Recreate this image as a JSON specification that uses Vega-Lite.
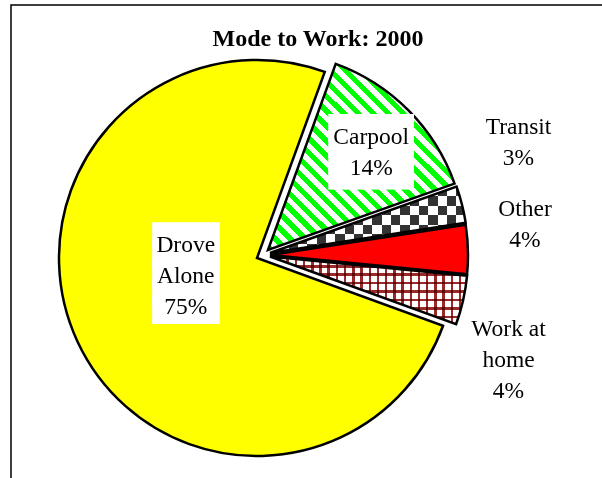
{
 "$schema": "https://vega.github.io/schema/vega-lite/v6.json",
 "width": 597, "height": 479,
 "autosize": {"type": "none"},
 "padding": {"left": 11, "top": 5, "right": -6, "bottom": -6},
 "background": "white",
 "view": {"stroke": "black", "strokeWidth": 1.5},
 "config": {"view": {"stroke": "black", "strokeWidth": 1.5}},
 "title": {"text": "Mode to Work: 2000", "font": "Liberation Serif", "fontSize": 24, "fontWeight": "bold", "color": "black", "anchor": "middle", "frame": "group", "baseline": "alphabetic", "offset": -41, "dx": 8.5, "dy": 25},
 "data": {"values": [
  {"mode": "Carpool", "value": 14, "label": "Carpool|14%"},
  {"mode": "Transit", "value": 3, "label": "Transit|3%"},
  {"mode": "Other", "value": 4, "label": "Other|4%"},
  {"mode": "Work at home", "value": 4, "label": "Work at|home|4%"},
  {"mode": "Drove Alone", "value": 75, "label": "Drove|Alone|75%"}
 ]},
 "transform": [{"stack": "value", "groupby": [], "as": ["start", "end"]}],
 "layer": [
  {"transform": [{"filter": "datum.mode === 'Drove Alone'"}],
   "mark": {"type": "arc", "radius": 198, "xOffset": -52.5, "yOffset": 13.5, "fill": "#ffff00", "stroke": "black", "strokeWidth": 2.5},
   "encoding": {"theta": {"field": "start", "type": "quantitative", "scale": {"domain": [0, 100], "range": [0.34907, 6.63225]}}, "theta2": {"field": "end"}}},
  {"transform": [{"filter": "datum.mode === 'Carpool'"}],
   "mark": {"type": "arc", "radius": 198, "xOffset": -41.5, "yOffset": 5.5, "stroke": "black", "strokeWidth": 2.5,
    "fill": {"gradient": "linear", "x1": 0, "y1": 1, "x2": 1, "y2": 0, "stops": [
     {"offset": 0, "color": "#00ff00"}, {"offset": 0.02, "color": "#00ff00"}, {"offset": 0.02, "color": "#ffffff"}, {"offset": 0.04, "color": "#ffffff"},
     {"offset": 0.04, "color": "#00ff00"}, {"offset": 0.06, "color": "#00ff00"}, {"offset": 0.06, "color": "#ffffff"}, {"offset": 0.08, "color": "#ffffff"},
     {"offset": 0.08, "color": "#00ff00"}, {"offset": 0.10, "color": "#00ff00"}, {"offset": 0.10, "color": "#ffffff"}, {"offset": 0.12, "color": "#ffffff"},
     {"offset": 0.12, "color": "#00ff00"}, {"offset": 0.14, "color": "#00ff00"}, {"offset": 0.14, "color": "#ffffff"}, {"offset": 0.16, "color": "#ffffff"},
     {"offset": 0.16, "color": "#00ff00"}, {"offset": 0.18, "color": "#00ff00"}, {"offset": 0.18, "color": "#ffffff"}, {"offset": 0.20, "color": "#ffffff"},
     {"offset": 0.20, "color": "#00ff00"}, {"offset": 0.22, "color": "#00ff00"}, {"offset": 0.22, "color": "#ffffff"}, {"offset": 0.24, "color": "#ffffff"},
     {"offset": 0.24, "color": "#00ff00"}, {"offset": 0.26, "color": "#00ff00"}, {"offset": 0.26, "color": "#ffffff"}, {"offset": 0.28, "color": "#ffffff"},
     {"offset": 0.28, "color": "#00ff00"}, {"offset": 0.30, "color": "#00ff00"}, {"offset": 0.30, "color": "#ffffff"}, {"offset": 0.32, "color": "#ffffff"},
     {"offset": 0.32, "color": "#00ff00"}, {"offset": 0.34, "color": "#00ff00"}, {"offset": 0.34, "color": "#ffffff"}, {"offset": 0.36, "color": "#ffffff"},
     {"offset": 0.36, "color": "#00ff00"}, {"offset": 0.38, "color": "#00ff00"}, {"offset": 0.38, "color": "#ffffff"}, {"offset": 0.40, "color": "#ffffff"},
     {"offset": 0.40, "color": "#00ff00"}, {"offset": 0.42, "color": "#00ff00"}, {"offset": 0.42, "color": "#ffffff"}, {"offset": 0.44, "color": "#ffffff"},
     {"offset": 0.44, "color": "#00ff00"}, {"offset": 0.46, "color": "#00ff00"}, {"offset": 0.46, "color": "#ffffff"}, {"offset": 0.48, "color": "#ffffff"},
     {"offset": 0.48, "color": "#00ff00"}, {"offset": 0.50, "color": "#00ff00"}, {"offset": 0.50, "color": "#ffffff"}, {"offset": 0.52, "color": "#ffffff"},
     {"offset": 0.52, "color": "#00ff00"}, {"offset": 0.54, "color": "#00ff00"}, {"offset": 0.54, "color": "#ffffff"}, {"offset": 0.56, "color": "#ffffff"},
     {"offset": 0.56, "color": "#00ff00"}, {"offset": 0.58, "color": "#00ff00"}, {"offset": 0.58, "color": "#ffffff"}, {"offset": 0.60, "color": "#ffffff"},
     {"offset": 0.60, "color": "#00ff00"}, {"offset": 0.62, "color": "#00ff00"}, {"offset": 0.62, "color": "#ffffff"}, {"offset": 0.64, "color": "#ffffff"},
     {"offset": 0.64, "color": "#00ff00"}, {"offset": 0.66, "color": "#00ff00"}, {"offset": 0.66, "color": "#ffffff"}, {"offset": 0.68, "color": "#ffffff"},
     {"offset": 0.68, "color": "#00ff00"}, {"offset": 0.70, "color": "#00ff00"}, {"offset": 0.70, "color": "#ffffff"}, {"offset": 0.72, "color": "#ffffff"},
     {"offset": 0.72, "color": "#00ff00"}, {"offset": 0.74, "color": "#00ff00"}, {"offset": 0.74, "color": "#ffffff"}, {"offset": 0.76, "color": "#ffffff"},
     {"offset": 0.76, "color": "#00ff00"}, {"offset": 0.78, "color": "#00ff00"}, {"offset": 0.78, "color": "#ffffff"}, {"offset": 0.80, "color": "#ffffff"},
     {"offset": 0.80, "color": "#00ff00"}, {"offset": 0.82, "color": "#00ff00"}, {"offset": 0.82, "color": "#ffffff"}, {"offset": 0.84, "color": "#ffffff"},
     {"offset": 0.84, "color": "#00ff00"}, {"offset": 0.86, "color": "#00ff00"}, {"offset": 0.86, "color": "#ffffff"}, {"offset": 0.88, "color": "#ffffff"},
     {"offset": 0.88, "color": "#00ff00"}, {"offset": 0.90, "color": "#00ff00"}, {"offset": 0.90, "color": "#ffffff"}, {"offset": 0.92, "color": "#ffffff"},
     {"offset": 0.92, "color": "#00ff00"}, {"offset": 0.94, "color": "#00ff00"}, {"offset": 0.94, "color": "#ffffff"}, {"offset": 0.96, "color": "#ffffff"},
     {"offset": 0.96, "color": "#00ff00"}, {"offset": 0.98, "color": "#00ff00"}, {"offset": 0.98, "color": "#ffffff"}, {"offset": 1, "color": "#ffffff"}
    ]}},
   "encoding": {"theta": {"field": "start", "type": "quantitative", "scale": {"domain": [0, 100], "range": [0.34907, 6.63225]}}, "theta2": {"field": "end"}}},
  {"transform": [{"filter": "datum.mode === 'Transit'"}],
   "mark": {"type": "arc", "radius": 198, "xOffset": -39.5, "yOffset": 8.5, "strokeWidth": 0,
    "fill": {"gradient": "linear", "x1": 0, "y1": 0, "x2": 1, "y2": 0, "stops": [
     {"offset": 0, "color": "#000000"}, {"offset": 0.0476, "color": "#000000"}, {"offset": 0.0476, "color": "#ffffff"}, {"offset": 0.0952, "color": "#ffffff"},
     {"offset": 0.0952, "color": "#000000"}, {"offset": 0.1429, "color": "#000000"}, {"offset": 0.1429, "color": "#ffffff"}, {"offset": 0.1905, "color": "#ffffff"},
     {"offset": 0.1905, "color": "#000000"}, {"offset": 0.2381, "color": "#000000"}, {"offset": 0.2381, "color": "#ffffff"}, {"offset": 0.2857, "color": "#ffffff"},
     {"offset": 0.2857, "color": "#000000"}, {"offset": 0.3333, "color": "#000000"}, {"offset": 0.3333, "color": "#ffffff"}, {"offset": 0.381, "color": "#ffffff"},
     {"offset": 0.381, "color": "#000000"}, {"offset": 0.4286, "color": "#000000"}, {"offset": 0.4286, "color": "#ffffff"}, {"offset": 0.4762, "color": "#ffffff"},
     {"offset": 0.4762, "color": "#000000"}, {"offset": 0.5238, "color": "#000000"}, {"offset": 0.5238, "color": "#ffffff"}, {"offset": 0.5714, "color": "#ffffff"},
     {"offset": 0.5714, "color": "#000000"}, {"offset": 0.619, "color": "#000000"}, {"offset": 0.619, "color": "#ffffff"}, {"offset": 0.6667, "color": "#ffffff"},
     {"offset": 0.6667, "color": "#000000"}, {"offset": 0.7143, "color": "#000000"}, {"offset": 0.7143, "color": "#ffffff"}, {"offset": 0.7619, "color": "#ffffff"},
     {"offset": 0.7619, "color": "#000000"}, {"offset": 0.8095, "color": "#000000"}, {"offset": 0.8095, "color": "#ffffff"}, {"offset": 0.8571, "color": "#ffffff"},
     {"offset": 0.8571, "color": "#000000"}, {"offset": 0.9048, "color": "#000000"}, {"offset": 0.9048, "color": "#ffffff"}, {"offset": 0.9524, "color": "#ffffff"},
     {"offset": 0.9524, "color": "#000000"}, {"offset": 1, "color": "#000000"}
    ]}},
   "encoding": {"theta": {"field": "start", "type": "quantitative", "scale": {"domain": [0, 100], "range": [0.34907, 6.63225]}}, "theta2": {"field": "end"}}},
  {"transform": [{"filter": "datum.mode === 'Transit'"}],
   "mark": {"type": "arc", "radius": 198, "xOffset": -39.5, "yOffset": 8.5, "strokeWidth": 0, "blend": "difference",
    "fill": {"gradient": "linear", "x1": 0, "y1": 0, "x2": 0, "y2": 1, "stops": [
     {"offset": 0, "color": "#000000"}, {"offset": 0.1429, "color": "#000000"}, {"offset": 0.1429, "color": "#ffffff"}, {"offset": 0.2857, "color": "#ffffff"},
     {"offset": 0.2857, "color": "#000000"}, {"offset": 0.4286, "color": "#000000"}, {"offset": 0.4286, "color": "#ffffff"}, {"offset": 0.5714, "color": "#ffffff"},
     {"offset": 0.5714, "color": "#000000"}, {"offset": 0.7143, "color": "#000000"}, {"offset": 0.7143, "color": "#ffffff"}, {"offset": 0.8571, "color": "#ffffff"},
     {"offset": 0.8571, "color": "#000000"}, {"offset": 1, "color": "#000000"}
    ]}},
   "encoding": {"theta": {"field": "start", "type": "quantitative", "scale": {"domain": [0, 100], "range": [0.34907, 6.63225]}}, "theta2": {"field": "end"}}},
  {"transform": [{"filter": "datum.mode === 'Transit'"}],
   "mark": {"type": "arc", "radius": 198, "xOffset": -39.5, "yOffset": 8.5, "fill": "#ffffff", "fillOpacity": 0.2, "stroke": "black", "strokeWidth": 2.5},
   "encoding": {"theta": {"field": "start", "type": "quantitative", "scale": {"domain": [0, 100], "range": [0.34907, 6.63225]}}, "theta2": {"field": "end"}}},
  {"transform": [{"filter": "datum.mode === 'Other'"}],
   "mark": {"type": "arc", "radius": 198, "xOffset": -39.5, "yOffset": 10.5, "fill": "#ff0000", "stroke": "black", "strokeWidth": 2.5},
   "encoding": {"theta": {"field": "start", "type": "quantitative", "scale": {"domain": [0, 100], "range": [0.34907, 6.63225]}}, "theta2": {"field": "end"}}},
  {"transform": [{"filter": "datum.mode === 'Work at home'"}],
   "mark": {"type": "arc", "radius": 198, "xOffset": -39.5, "yOffset": 12, "strokeWidth": 0,
    "fill": {"gradient": "linear", "x1": 0, "y1": 0, "x2": 1, "y2": 0, "stops": [
     {"offset": 0, "color": "#9a2a2a"}, {"offset": 0.0125, "color": "#9a2a2a"}, {"offset": 0.0125, "color": "#ffffff"}, {"offset": 0.0417, "color": "#ffffff"},
     {"offset": 0.0417, "color": "#9a2a2a"}, {"offset": 0.0542, "color": "#9a2a2a"}, {"offset": 0.0542, "color": "#ffffff"}, {"offset": 0.0833, "color": "#ffffff"},
     {"offset": 0.0833, "color": "#9a2a2a"}, {"offset": 0.0958, "color": "#9a2a2a"}, {"offset": 0.0958, "color": "#ffffff"}, {"offset": 0.125, "color": "#ffffff"},
     {"offset": 0.125, "color": "#9a2a2a"}, {"offset": 0.1375, "color": "#9a2a2a"}, {"offset": 0.1375, "color": "#ffffff"}, {"offset": 0.1667, "color": "#ffffff"},
     {"offset": 0.1667, "color": "#9a2a2a"}, {"offset": 0.1792, "color": "#9a2a2a"}, {"offset": 0.1792, "color": "#ffffff"}, {"offset": 0.2083, "color": "#ffffff"},
     {"offset": 0.2083, "color": "#9a2a2a"}, {"offset": 0.2208, "color": "#9a2a2a"}, {"offset": 0.2208, "color": "#ffffff"}, {"offset": 0.25, "color": "#ffffff"},
     {"offset": 0.25, "color": "#9a2a2a"}, {"offset": 0.2625, "color": "#9a2a2a"}, {"offset": 0.2625, "color": "#ffffff"}, {"offset": 0.2917, "color": "#ffffff"},
     {"offset": 0.2917, "color": "#9a2a2a"}, {"offset": 0.3042, "color": "#9a2a2a"}, {"offset": 0.3042, "color": "#ffffff"}, {"offset": 0.3333, "color": "#ffffff"},
     {"offset": 0.3333, "color": "#9a2a2a"}, {"offset": 0.3458, "color": "#9a2a2a"}, {"offset": 0.3458, "color": "#ffffff"}, {"offset": 0.375, "color": "#ffffff"},
     {"offset": 0.375, "color": "#9a2a2a"}, {"offset": 0.3875, "color": "#9a2a2a"}, {"offset": 0.3875, "color": "#ffffff"}, {"offset": 0.4167, "color": "#ffffff"},
     {"offset": 0.4167, "color": "#9a2a2a"}, {"offset": 0.4292, "color": "#9a2a2a"}, {"offset": 0.4292, "color": "#ffffff"}, {"offset": 0.4583, "color": "#ffffff"},
     {"offset": 0.4583, "color": "#9a2a2a"}, {"offset": 0.4708, "color": "#9a2a2a"}, {"offset": 0.4708, "color": "#ffffff"}, {"offset": 0.5, "color": "#ffffff"},
     {"offset": 0.5, "color": "#9a2a2a"}, {"offset": 0.5125, "color": "#9a2a2a"}, {"offset": 0.5125, "color": "#ffffff"}, {"offset": 0.5417, "color": "#ffffff"},
     {"offset": 0.5417, "color": "#9a2a2a"}, {"offset": 0.5542, "color": "#9a2a2a"}, {"offset": 0.5542, "color": "#ffffff"}, {"offset": 0.5833, "color": "#ffffff"},
     {"offset": 0.5833, "color": "#9a2a2a"}, {"offset": 0.5958, "color": "#9a2a2a"}, {"offset": 0.5958, "color": "#ffffff"}, {"offset": 0.625, "color": "#ffffff"},
     {"offset": 0.625, "color": "#9a2a2a"}, {"offset": 0.6375, "color": "#9a2a2a"}, {"offset": 0.6375, "color": "#ffffff"}, {"offset": 0.6667, "color": "#ffffff"},
     {"offset": 0.6667, "color": "#9a2a2a"}, {"offset": 0.6792, "color": "#9a2a2a"}, {"offset": 0.6792, "color": "#ffffff"}, {"offset": 0.7083, "color": "#ffffff"},
     {"offset": 0.7083, "color": "#9a2a2a"}, {"offset": 0.7208, "color": "#9a2a2a"}, {"offset": 0.7208, "color": "#ffffff"}, {"offset": 0.75, "color": "#ffffff"},
     {"offset": 0.75, "color": "#9a2a2a"}, {"offset": 0.7625, "color": "#9a2a2a"}, {"offset": 0.7625, "color": "#ffffff"}, {"offset": 0.7917, "color": "#ffffff"},
     {"offset": 0.7917, "color": "#9a2a2a"}, {"offset": 0.8042, "color": "#9a2a2a"}, {"offset": 0.8042, "color": "#ffffff"}, {"offset": 0.8333, "color": "#ffffff"},
     {"offset": 0.8333, "color": "#9a2a2a"}, {"offset": 0.8458, "color": "#9a2a2a"}, {"offset": 0.8458, "color": "#ffffff"}, {"offset": 0.875, "color": "#ffffff"},
     {"offset": 0.875, "color": "#9a2a2a"}, {"offset": 0.8875, "color": "#9a2a2a"}, {"offset": 0.8875, "color": "#ffffff"}, {"offset": 0.9167, "color": "#ffffff"},
     {"offset": 0.9167, "color": "#9a2a2a"}, {"offset": 0.9292, "color": "#9a2a2a"}, {"offset": 0.9292, "color": "#ffffff"}, {"offset": 0.9583, "color": "#ffffff"},
     {"offset": 0.9583, "color": "#9a2a2a"}, {"offset": 0.9708, "color": "#9a2a2a"}, {"offset": 0.9708, "color": "#ffffff"}, {"offset": 1, "color": "#ffffff"}
    ]}},
   "encoding": {"theta": {"field": "start", "type": "quantitative", "scale": {"domain": [0, 100], "range": [0.34907, 6.63225]}}, "theta2": {"field": "end"}}},
  {"transform": [{"filter": "datum.mode === 'Work at home'"}],
   "mark": {"type": "arc", "radius": 198, "xOffset": -39.5, "yOffset": 12, "stroke": "black", "strokeWidth": 2.5, "blend": "multiply",
    "fill": {"gradient": "linear", "x1": 0, "y1": 0, "x2": 0, "y2": 1, "stops": [
     {"offset": 0, "color": "#9a2a2a"}, {"offset": 0.0375, "color": "#9a2a2a"}, {"offset": 0.0375, "color": "#ffffff"}, {"offset": 0.125, "color": "#ffffff"},
     {"offset": 0.125, "color": "#9a2a2a"}, {"offset": 0.1625, "color": "#9a2a2a"}, {"offset": 0.1625, "color": "#ffffff"}, {"offset": 0.25, "color": "#ffffff"},
     {"offset": 0.25, "color": "#9a2a2a"}, {"offset": 0.2875, "color": "#9a2a2a"}, {"offset": 0.2875, "color": "#ffffff"}, {"offset": 0.375, "color": "#ffffff"},
     {"offset": 0.375, "color": "#9a2a2a"}, {"offset": 0.4125, "color": "#9a2a2a"}, {"offset": 0.4125, "color": "#ffffff"}, {"offset": 0.5, "color": "#ffffff"},
     {"offset": 0.5, "color": "#9a2a2a"}, {"offset": 0.5375, "color": "#9a2a2a"}, {"offset": 0.5375, "color": "#ffffff"}, {"offset": 0.625, "color": "#ffffff"},
     {"offset": 0.625, "color": "#9a2a2a"}, {"offset": 0.6625, "color": "#9a2a2a"}, {"offset": 0.6625, "color": "#ffffff"}, {"offset": 0.75, "color": "#ffffff"},
     {"offset": 0.75, "color": "#9a2a2a"}, {"offset": 0.7875, "color": "#9a2a2a"}, {"offset": 0.7875, "color": "#ffffff"}, {"offset": 0.875, "color": "#ffffff"},
     {"offset": 0.875, "color": "#9a2a2a"}, {"offset": 0.9125, "color": "#9a2a2a"}, {"offset": 0.9125, "color": "#ffffff"}, {"offset": 1, "color": "#ffffff"}
    ]}},
   "encoding": {"theta": {"field": "start", "type": "quantitative", "scale": {"domain": [0, 100], "range": [0.34907, 6.63225]}}, "theta2": {"field": "end"}}},
  {"mark": {"type": "text", "radius": 73.6, "thetaOffset": 0.183, "xOffset": -52.5, "yOffset": 13.5, "dy": -39.3, "font": "DejaVu Sans", "fontSize": 21.3, "lineBreak": "|", "lineHeight": 18.8, "align": "center", "baseline": "middle", "fill": "white", "stroke": "white", "strokeWidth": 1.5, "strokeJoin": "miter"},
   "encoding": {"theta": {"field": "value", "type": "quantitative", "stack": true, "scale": {"domain": [0, 100], "range": [0.34907, 6.63225]}}, "order": {"field": "start", "type": "quantitative"}, "text": {"condition": {"test": "datum.mode === 'Drove Alone'", "value": "████|████|████|████|████"}, "value": ""}}},
  {"mark": {"type": "text", "radius": 141.8, "thetaOffset": 0.026, "xOffset": -41.5, "yOffset": 5.5, "dy": -24.8, "font": "DejaVu Sans", "fontSize": 21.8, "lineBreak": "|", "lineHeight": 15.9, "align": "center", "baseline": "middle", "fill": "white", "stroke": "white", "strokeWidth": 1.5, "strokeJoin": "miter"},
   "encoding": {"theta": {"field": "value", "type": "quantitative", "stack": true, "scale": {"domain": [0, 100], "range": [0.34907, 6.63225]}}, "order": {"field": "start", "type": "quantitative"}, "text": {"condition": {"test": "datum.mode === 'Carpool'", "value": "█████|█████|█████|█████"}, "value": ""}}},
  {"mark": {"type": "text", "radius": 73.6, "thetaOffset": 0.183, "xOffset": -52.5, "yOffset": 13.5, "dy": -31, "font": "Liberation Serif", "fontSize": 23.5, "lineBreak": "|", "lineHeight": 31, "align": "center", "baseline": "middle", "color": "black"},
   "encoding": {"theta": {"field": "value", "type": "quantitative", "stack": true, "scale": {"domain": [0, 100], "range": [0.34907, 6.63225]}}, "order": {"field": "start", "type": "quantitative"}, "text": {"condition": {"test": "datum.mode === 'Drove Alone'", "field": "label"}, "value": ""}}},
  {"mark": {"type": "text", "radius": 141.8, "thetaOffset": 0.026, "xOffset": -41.5, "yOffset": 5.5, "dy": -15.5, "font": "Liberation Serif", "fontSize": 23.5, "lineBreak": "|", "lineHeight": 31, "align": "center", "baseline": "middle", "color": "black"},
   "encoding": {"theta": {"field": "value", "type": "quantitative", "stack": true, "scale": {"domain": [0, 100], "range": [0.34907, 6.63225]}}, "order": {"field": "start", "type": "quantitative"}, "text": {"condition": {"test": "datum.mode === 'Carpool'", "field": "label"}, "value": ""}}},
  {"mark": {"type": "text", "radius": 271.8, "thetaOffset": -0.169, "xOffset": -39.5, "yOffset": 8.5, "dy": -15.5, "font": "Liberation Serif", "fontSize": 23.5, "lineBreak": "|", "lineHeight": 31, "align": "center", "baseline": "middle", "color": "black"},
   "encoding": {"theta": {"field": "value", "type": "quantitative", "stack": true, "scale": {"domain": [0, 100], "range": [0.34907, 6.63225]}}, "order": {"field": "start", "type": "quantitative"}, "text": {"condition": {"test": "datum.mode === 'Transit'", "field": "label"}, "value": ""}}},
  {"mark": {"type": "text", "radius": 256.9, "thetaOffset": -0.093, "xOffset": -39.5, "yOffset": 10.5, "dy": -15.5, "font": "Liberation Serif", "fontSize": 23.5, "lineBreak": "|", "lineHeight": 31, "align": "center", "baseline": "middle", "color": "black"},
   "encoding": {"theta": {"field": "value", "type": "quantitative", "stack": true, "scale": {"domain": [0, 100], "range": [0.34907, 6.63225]}}, "order": {"field": "start", "type": "quantitative"}, "text": {"condition": {"test": "datum.mode === 'Other'", "field": "label"}, "value": ""}}},
  {"mark": {"type": "text", "radius": 260.1, "thetaOffset": 0.187, "xOffset": -39.5, "yOffset": 12, "dy": -31, "font": "Liberation Serif", "fontSize": 23.5, "lineBreak": "|", "lineHeight": 31, "align": "center", "baseline": "middle", "color": "black"},
   "encoding": {"theta": {"field": "value", "type": "quantitative", "stack": true, "scale": {"domain": [0, 100], "range": [0.34907, 6.63225]}}, "order": {"field": "start", "type": "quantitative"}, "text": {"condition": {"test": "datum.mode === 'Work at home'", "field": "label"}, "value": ""}}}
 ]
}
